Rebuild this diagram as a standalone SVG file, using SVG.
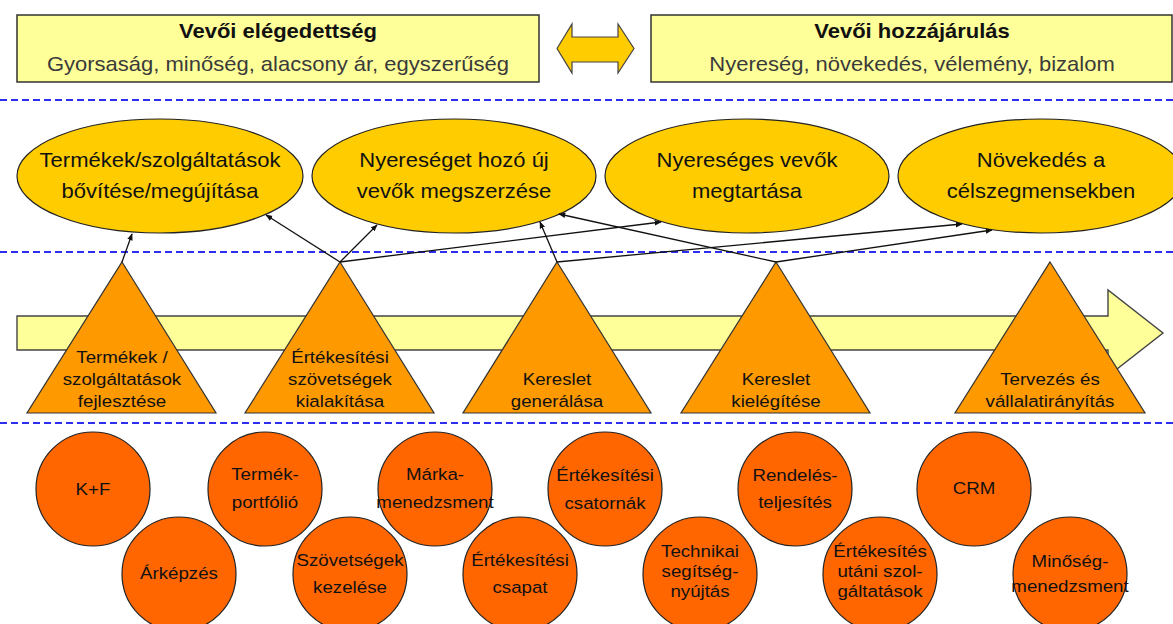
<svg xmlns="http://www.w3.org/2000/svg" width="1173" height="624" viewBox="0 0 1173 624">
  <style>
    .box { fill: #FFFF99; stroke: #333; stroke-width: 1.5; }
    .goal { fill: #FFCC00; stroke: #222; stroke-width: 1.2; }
    .proc { fill: #FF9900; stroke: #333; stroke-width: 1.2; }
    .cap { fill: #FF6600; stroke: #222; stroke-width: 1.2; }
    .sep { stroke: #2E2EF0; stroke-width: 2.2; stroke-dasharray: 7 4; fill: none; }
    .flow { fill: #FFFF99; stroke: #444; stroke-width: 1.4; }
    .link { stroke: #111; stroke-width: 1.3; fill: none; marker-end: url(#ah); }
    text { font-family: "Liberation Sans", Arial, sans-serif; text-anchor: middle; fill: #111; }
    .title { font-size: 20px; font-weight: bold; }
    .sub { font-size: 20px; fill: #3a3a3a; }
    .gt { font-size: 20px; }
    .pt { font-size: 17px; }
    .ct { font-size: 17px; }
  </style>
  <defs>
    <marker id="ah" viewBox="0 0 10 10" refX="9" refY="5" markerWidth="7" markerHeight="7" orient="auto" markerUnits="userSpaceOnUse">
      <path d="M0,1 L10,5 L0,9 Z" fill="#111"/>
    </marker>
  </defs>

  <rect width="1173" height="624" fill="#fff"/>

  <!-- dashed separators -->
  <g id="separators">
    <line class="sep" x1="0" y1="100" x2="1173" y2="100"/>
    <line class="sep" x1="0" y1="252" x2="1173" y2="252"/>
    <line class="sep" x1="0" y1="423" x2="1173" y2="423"/>
  </g>

  <!-- top header boxes -->
  <g id="satisfaction">
    <rect class="box" x="17" y="15" width="522" height="67"/>
    <g transform="translate(278,0) scale(1.1,1)">
      <text class="title" x="0" y="38">Vevői elégedettség</text>
      <text class="sub" x="0" y="71">Gyorsaság, minőség, alacsony ár, egyszerűség</text>
    </g>
  </g>
  <g id="exchange">
    <polygon points="557,48.5 572,24 572,37 618,37 618,24 634,48.5 618,73 618,62 572,62 572,73" fill="#FFCC00" stroke="#444" stroke-width="1.2"/>
  </g>
  <g id="contribution">
    <rect class="box" x="651" y="15" width="521" height="67"/>
    <g transform="translate(912,0) scale(1.1,1)">
      <text class="title" x="0" y="38">Vevői hozzájárulás</text>
      <text class="sub" x="0" y="71">Nyereség, növekedés, vélemény, bizalom</text>
    </g>
  </g>

  <!-- goals -->
  <g id="goal1">
    <ellipse class="goal" cx="160" cy="176" rx="143" ry="57"/>
    <g transform="translate(160,0) scale(1.1,1)">
      <text class="gt" x="0" y="167">Termékek/szolgáltatások</text>
      <text class="gt" x="0" y="198">bővítése/megújítása</text>
    </g>
  </g>
  <g id="goal2">
    <ellipse class="goal" cx="454" cy="176" rx="142" ry="57"/>
    <g transform="translate(454,0) scale(1.1,1)">
      <text class="gt" x="0" y="167">Nyereséget hozó új</text>
      <text class="gt" x="0" y="198">vevők megszerzése</text>
    </g>
  </g>
  <g id="goal3">
    <ellipse class="goal" cx="747" cy="176" rx="142" ry="57"/>
    <g transform="translate(747,0) scale(1.1,1)">
      <text class="gt" x="0" y="167">Nyereséges vevők</text>
      <text class="gt" x="0" y="198">megtartása</text>
    </g>
  </g>
  <g id="goal4">
    <ellipse class="goal" cx="1041" cy="176" rx="143" ry="57"/>
    <g transform="translate(1041,0) scale(1.1,1)">
      <text class="gt" x="0" y="167">Növekedés a</text>
      <text class="gt" x="0" y="198">célszegmensekben</text>
    </g>
  </g>

  <!-- process flow arrow -->
  <g id="flow">
    <polygon class="flow" points="17,316 1108,316 1108,290 1163,333 1108,376 1108,350 17,350"/>
  </g>

  <!-- processes -->
  <g id="proc1">
    <polygon class="proc" points="122,262 216,413 27,413"/>
    <g transform="translate(122,0) scale(1.1,1)">
      <text class="pt" x="0" y="363">Termékek /</text>
      <text class="pt" x="0" y="385">szolgáltatások</text>
      <text class="pt" x="0" y="407">fejlesztése</text>
    </g>
  </g>
  <g id="proc2">
    <polygon class="proc" points="340,262 434,413 245,413"/>
    <g transform="translate(340,0) scale(1.1,1)">
      <text class="pt" x="0" y="363">Értékesítési</text>
      <text class="pt" x="0" y="385">szövetségek</text>
      <text class="pt" x="0" y="407">kialakítása</text>
    </g>
  </g>
  <g id="proc3">
    <polygon class="proc" points="557,262 651,413 463,413"/>
    <g transform="translate(557,0) scale(1.1,1)">
      <text class="pt" x="0" y="385">Kereslet</text>
      <text class="pt" x="0" y="407">generálása</text>
    </g>
  </g>
  <g id="proc4">
    <polygon class="proc" points="776,262 870,413 681,413"/>
    <g transform="translate(776,0) scale(1.1,1)">
      <text class="pt" x="0" y="385">Kereslet</text>
      <text class="pt" x="0" y="407">kielégítése</text>
    </g>
  </g>
  <g id="proc5">
    <polygon class="proc" points="1050,262 1145,413 955,413"/>
    <g transform="translate(1050,0) scale(1.1,1)">
      <text class="pt" x="0" y="385">Tervezés és</text>
      <text class="pt" x="0" y="407">vállalatirányítás</text>
    </g>
  </g>

  <!-- connectors from processes to goals -->
  <g id="connectors">
    <line class="link" x1="122" y1="262" x2="132" y2="234"/>
    <line class="link" x1="340" y1="262" x2="266" y2="215"/>
    <line class="link" x1="340" y1="262" x2="377" y2="225"/>
    <line class="link" x1="340" y1="262" x2="661" y2="222"/>
    <line class="link" x1="557" y1="262" x2="540" y2="222"/>
    <line class="link" x1="557" y1="262" x2="962" y2="224"/>
    <line class="link" x1="776" y1="262" x2="559" y2="214"/>
    <line class="link" x1="776" y1="262" x2="992" y2="230"/>
  </g>

  <!-- capabilities -->
  <g id="cap-kf">
    <circle class="cap" cx="93" cy="489" r="57"/>
    <g transform="translate(93,0) scale(1.1,1)"><text class="ct" x="0" y="495">K+F</text></g>
  </g>
  <g id="cap-arkepzes">
    <circle class="cap" cx="179" cy="574" r="57"/>
    <g transform="translate(179,0) scale(1.1,1)"><text class="ct" x="0" y="579">Árképzés</text></g>
  </g>
  <g id="cap-portfolio">
    <circle class="cap" cx="265" cy="489" r="57"/>
    <g transform="translate(265,0) scale(1.1,1)">
      <text class="ct" x="0" y="480">Termék-</text>
      <text class="ct" x="0" y="508">portfólió</text>
    </g>
  </g>
  <g id="cap-szovetsegek">
    <circle class="cap" cx="350" cy="574" r="57"/>
    <g transform="translate(350,0) scale(1.1,1)">
      <text class="ct" x="0" y="566">Szövetségek</text>
      <text class="ct" x="0" y="593">kezelése</text>
    </g>
  </g>
  <g id="cap-marka">
    <circle class="cap" cx="435" cy="489" r="57"/>
    <g transform="translate(435,0) scale(1.1,1)">
      <text class="ct" x="0" y="480">Márka-</text>
      <text class="ct" x="0" y="508">menedzsment</text>
    </g>
  </g>
  <g id="cap-csapat">
    <circle class="cap" cx="520" cy="574" r="57"/>
    <g transform="translate(520,0) scale(1.1,1)">
      <text class="ct" x="0" y="566">Értékesítési</text>
      <text class="ct" x="0" y="593">csapat</text>
    </g>
  </g>
  <g id="cap-csatornak">
    <circle class="cap" cx="605" cy="489" r="57"/>
    <g transform="translate(605,0) scale(1.1,1)">
      <text class="ct" x="0" y="481">Értékesítési</text>
      <text class="ct" x="0" y="509">csatornák</text>
    </g>
  </g>
  <g id="cap-technikai">
    <circle class="cap" cx="700" cy="574" r="57"/>
    <g transform="translate(700,0) scale(1.1,1)">
      <text class="ct" x="0" y="557">Technikai</text>
      <text class="ct" x="0" y="577">segítség-</text>
      <text class="ct" x="0" y="597">nyújtás</text>
    </g>
  </g>
  <g id="cap-rendeles">
    <circle class="cap" cx="795" cy="489" r="57"/>
    <g transform="translate(795,0) scale(1.1,1)">
      <text class="ct" x="0" y="481">Rendelés-</text>
      <text class="ct" x="0" y="508">teljesítés</text>
    </g>
  </g>
  <g id="cap-utani">
    <circle class="cap" cx="880" cy="574" r="57"/>
    <g transform="translate(880,0) scale(1.1,1)">
      <text class="ct" x="0" y="557">Értékesítés</text>
      <text class="ct" x="0" y="577">utáni szol-</text>
      <text class="ct" x="0" y="597">gáltatások</text>
    </g>
  </g>
  <g id="cap-crm">
    <circle class="cap" cx="974" cy="489" r="57"/>
    <g transform="translate(974,0) scale(1.1,1)"><text class="ct" x="0" y="494">CRM</text></g>
  </g>
  <g id="cap-minoseg">
    <circle class="cap" cx="1070" cy="574" r="57"/>
    <g transform="translate(1070,0) scale(1.1,1)">
      <text class="ct" x="0" y="567">Minőség-</text>
      <text class="ct" x="0" y="592">menedzsment</text>
    </g>
  </g>
</svg>
